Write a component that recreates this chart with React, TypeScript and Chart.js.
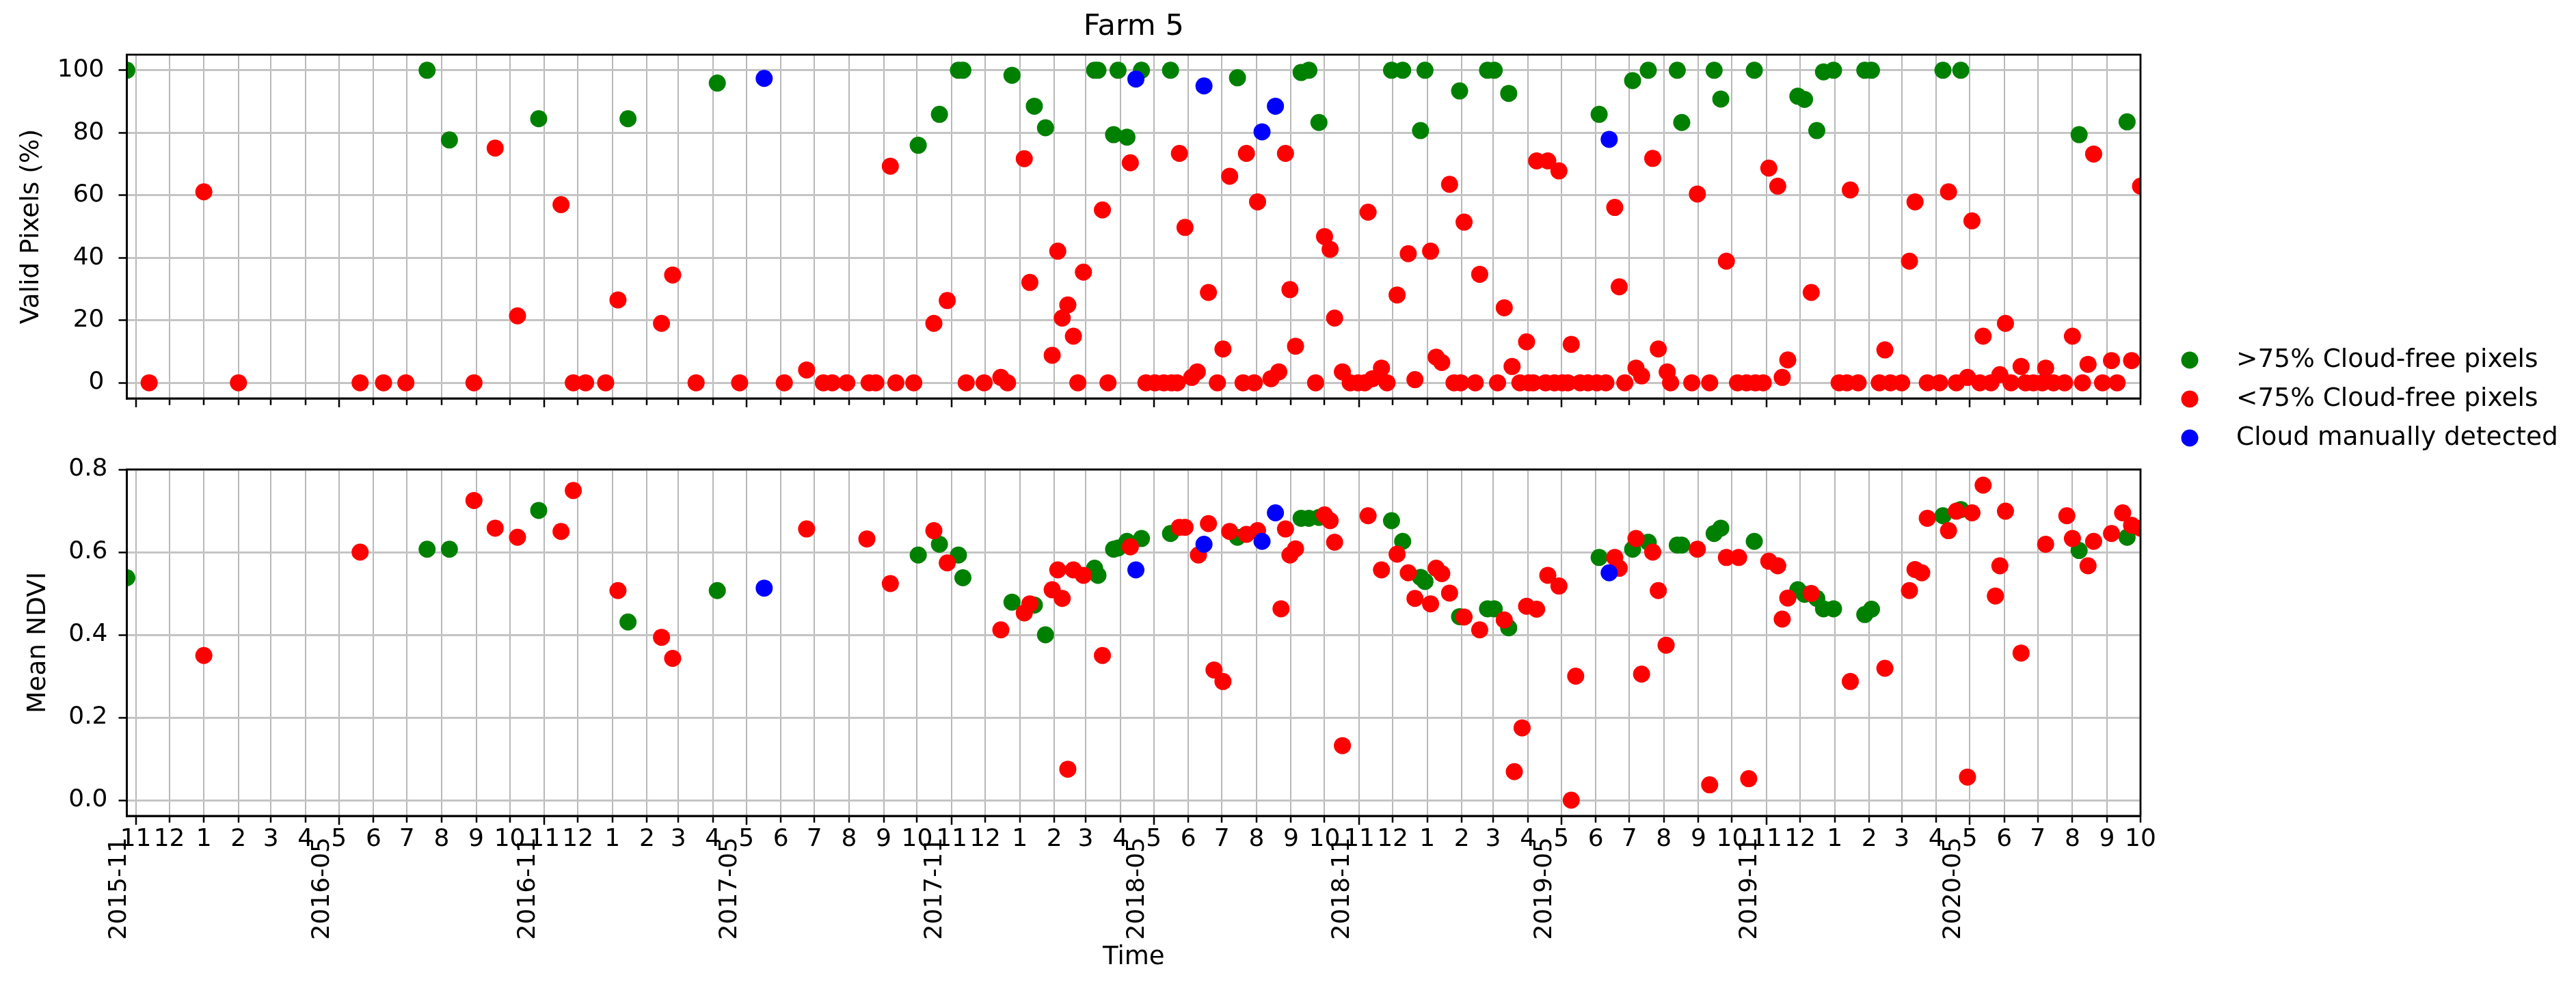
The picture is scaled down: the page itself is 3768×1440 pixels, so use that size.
import React, { useEffect, useRef } from 'react';
import { Chart, registerables } from 'chart.js';

Chart.register(...registerables);

// ---------------- axis definitions ----------------
const X_START = '2015-10-24';
const X_END = '2020-10-01';
const FIRST_MONTH_TICK = '2015-11-01';
const LAST_MONTH_TICK = '2020-10-01';
const MAJOR_TICK_LABELS = ['2015-11', '2016-05', '2016-11', '2017-05', '2017-11', '2018-05', '2018-11', '2019-05', '2019-11', '2020-05'];
const VALID_TICKS = [0, 20, 40, 60, 80, 100];
const VALID_MIN = -5;
const VALID_MAX = 105;
const NDVI_TICKS = [0.0, 0.2, 0.4, 0.6, 0.8];
const NDVI_MIN = -0.038;
const NDVI_MAX = 0.8;

const SERIES_LABELS = ['>75% Cloud-free pixels', '<75% Cloud-free pixels', 'Cloud manually detected'];
const SERIES_COLORS = ['#008000', '#ff0000', '#0000ff'];

// ---------------- data: valid pixels (%) ----------------
const VALID_GREEN: [string, number][] = [
  ['2015-10-24', 100], ['2016-07-19', 100], ['2016-08-08', 77.7], ['2016-10-27', 84.5], ['2017-01-15', 84.5],
  ['2017-04-05', 95.9], ['2017-10-02', 76], ['2017-10-21', 85.9], ['2017-11-07', 100], ['2017-11-11', 100],
  ['2017-12-25', 98.4], ['2018-01-14', 88.5], ['2018-01-24', 81.6], ['2018-03-09', 100], ['2018-03-12', 100],
  ['2018-03-26', 79.4], ['2018-03-30', 100], ['2018-04-07', 78.6], ['2018-04-20', 100], ['2018-05-16', 100],
  ['2018-07-15', 97.6], ['2018-09-10', 99.3], ['2018-09-17', 100], ['2018-09-26', 83.3], ['2018-11-30', 100],
  ['2018-12-10', 100], ['2018-12-26', 80.7], ['2018-12-30', 100], ['2019-01-30', 93.4], ['2019-02-24', 100],
  ['2019-03-02', 100], ['2019-03-15', 92.6], ['2019-06-04', 85.9], ['2019-07-04', 96.7], ['2019-07-18', 100],
  ['2019-08-13', 100], ['2019-08-17', 83.3], ['2019-09-15', 100], ['2019-09-21', 90.8], ['2019-10-21', 100],
  ['2019-11-29', 91.7], ['2019-12-05', 90.7], ['2019-12-16', 80.7], ['2019-12-22', 99.5], ['2019-12-31', 100],
  ['2020-01-28', 100], ['2020-02-03', 100], ['2020-04-07', 100], ['2020-04-23', 100], ['2020-08-07', 79.4],
  ['2020-09-19', 83.5],
];

const VALID_RED: [string, number][] = [
  ['2015-11-13', 0], ['2016-01-01', 61.1], ['2016-02-01', 0], ['2016-05-20', 0], ['2016-06-10', 0],
  ['2016-06-30', 0], ['2016-08-30', 0], ['2016-09-18', 75.1], ['2016-10-08', 21.4], ['2016-11-16', 57],
  ['2016-11-27', 0], ['2016-12-08', 0], ['2016-12-26', 0], ['2017-01-06', 26.5], ['2017-02-14', 19],
  ['2017-02-24', 34.5], ['2017-03-17', 0], ['2017-04-25', 0], ['2017-06-04', 0], ['2017-06-24', 4.1],
  ['2017-07-09', 0], ['2017-07-17', 0], ['2017-07-30', 0], ['2017-08-19', 0], ['2017-08-25', 0],
  ['2017-09-07', 69.3], ['2017-09-12', 0], ['2017-09-28', 0], ['2017-10-16', 19], ['2017-10-28', 26.3],
  ['2017-11-14', 0], ['2017-11-30', 0], ['2017-12-15', 1.7], ['2017-12-21', 0], ['2018-01-05', 71.7],
  ['2018-01-10', 32.1], ['2018-01-30', 8.8], ['2018-02-04', 42.1], ['2018-02-08', 20.7], ['2018-02-13', 24.9],
  ['2018-02-18', 14.9], ['2018-02-22', 0], ['2018-02-27', 35.4], ['2018-03-16', 55.3], ['2018-03-21', 0],
  ['2018-04-10', 70.4], ['2018-04-24', 0], ['2018-05-02', 0], ['2018-05-10', 0], ['2018-05-17', 0],
  ['2018-05-22', 0], ['2018-05-24', 73.4], ['2018-05-29', 49.7], ['2018-06-04', 1.7], ['2018-06-09', 3.5],
  ['2018-06-19', 28.9], ['2018-06-27', 0], ['2018-07-02', 10.8], ['2018-07-08', 66.1], ['2018-07-20', 0],
  ['2018-07-23', 73.4], ['2018-07-30', 0], ['2018-08-02', 57.9], ['2018-08-14', 1.3], ['2018-08-21', 3.5],
  ['2018-08-27', 73.4], ['2018-08-31', 29.8], ['2018-09-05', 11.7], ['2018-09-23', 0], ['2018-10-01', 46.8],
  ['2018-10-06', 42.7], ['2018-10-10', 20.7], ['2018-10-17', 3.5], ['2018-10-24', 0], ['2018-10-31', 0],
  ['2018-11-06', 0], ['2018-11-09', 54.6], ['2018-11-13', 1.3], ['2018-11-21', 4.7], ['2018-11-26', 0],
  ['2018-12-05', 28.1], ['2018-12-15', 41.3], ['2018-12-21', 1], ['2019-01-04', 42.1], ['2019-01-09', 8.2],
  ['2019-01-14', 6.5], ['2019-01-21', 63.5], ['2019-01-25', 0], ['2019-01-31', 0], ['2019-02-03', 51.4],
  ['2019-02-13', 0], ['2019-02-17', 34.7], ['2019-03-05', 0], ['2019-03-11', 24], ['2019-03-18', 5.2],
  ['2019-03-25', 0], ['2019-03-31', 13.1], ['2019-04-02', 0], ['2019-04-06', 0], ['2019-04-09', 71],
  ['2019-04-17', 0], ['2019-04-19', 71], ['2019-04-25', 0], ['2019-04-29', 67.8], ['2019-05-02', 0],
  ['2019-05-07', 0], ['2019-05-10', 12.3], ['2019-05-18', 0], ['2019-05-25', 0], ['2019-06-02', 0],
  ['2019-06-10', 0], ['2019-06-18', 56.1], ['2019-06-22', 30.7], ['2019-06-27', 0], ['2019-07-07', 4.7],
  ['2019-07-12', 2.2], ['2019-07-22', 71.8], ['2019-07-27', 10.8], ['2019-08-04', 3.5], ['2019-08-07', 0],
  ['2019-08-26', 0], ['2019-08-31', 60.4], ['2019-09-11', 0], ['2019-09-26', 38.9], ['2019-10-06', 0],
  ['2019-10-14', 0], ['2019-10-22', 0], ['2019-10-29', 0], ['2019-11-03', 68.7], ['2019-11-11', 62.9],
  ['2019-11-15', 1.7], ['2019-11-20', 7.3], ['2019-12-11', 28.9], ['2020-01-05', 0], ['2020-01-12', 0],
  ['2020-01-15', 61.7], ['2020-01-22', 0], ['2020-02-10', 0], ['2020-02-15', 10.5], ['2020-02-20', 0],
  ['2020-03-01', 0], ['2020-03-08', 38.9], ['2020-03-13', 57.9], ['2020-03-24', 0], ['2020-04-04', 0],
  ['2020-04-12', 61.1], ['2020-04-19', 0], ['2020-04-29', 1.7], ['2020-05-03', 51.8], ['2020-05-10', 0],
  ['2020-05-13', 14.9], ['2020-05-20', 0], ['2020-05-28', 2.6], ['2020-06-02', 19], ['2020-06-07', 0],
  ['2020-06-16', 5.2], ['2020-06-20', 0], ['2020-06-27', 0], ['2020-07-05', 0], ['2020-07-08', 4.7],
  ['2020-07-15', 0], ['2020-07-25', 0], ['2020-08-01', 14.9], ['2020-08-10', 0], ['2020-08-15', 5.9],
  ['2020-08-20', 73.2], ['2020-08-28', 0], ['2020-09-05', 7.1], ['2020-09-10', 0], ['2020-09-23', 7.1],
  ['2020-10-01', 62.9],
];

const VALID_BLUE: [string, number][] = [
  ['2017-05-17', 97.4], ['2018-04-15', 97.2], ['2018-06-15', 95], ['2018-08-06', 80.3], ['2018-08-18', 88.5],
  ['2019-06-13', 77.9],
];

// ---------------- data: mean NDVI ----------------
const NDVI_GREEN: [string, number][] = [
  ['2015-10-24', 0.538], ['2016-07-19', 0.607], ['2016-08-08', 0.607], ['2016-10-27', 0.701], ['2017-01-15', 0.431],
  ['2017-04-05', 0.507], ['2017-10-02', 0.593], ['2017-10-21', 0.619], ['2017-11-07', 0.593], ['2017-11-11', 0.538],
  ['2017-12-25', 0.479], ['2018-01-14', 0.472], ['2018-01-24', 0.4], ['2018-03-09', 0.561], ['2018-03-12', 0.544],
  ['2018-03-26', 0.607], ['2018-03-30', 0.61], ['2018-04-07', 0.626], ['2018-04-20', 0.633], ['2018-05-16', 0.645],
  ['2018-07-15', 0.636], ['2018-09-10', 0.682], ['2018-09-17', 0.682], ['2018-09-26', 0.684], ['2018-11-30', 0.676],
  ['2018-12-10', 0.626], ['2018-12-26', 0.539], ['2018-12-30', 0.529], ['2019-01-30', 0.444], ['2019-02-24', 0.463],
  ['2019-03-02', 0.463], ['2019-03-15', 0.417], ['2019-06-04', 0.587], ['2019-07-04', 0.607], ['2019-07-18', 0.624],
  ['2019-08-13', 0.617], ['2019-08-17', 0.617], ['2019-09-15', 0.645], ['2019-09-21', 0.658], ['2019-10-21', 0.626],
  ['2019-11-29', 0.509], ['2019-12-05', 0.498], ['2019-12-16', 0.488], ['2019-12-22', 0.463], ['2019-12-31', 0.463],
  ['2020-01-28', 0.449], ['2020-02-03', 0.462], ['2020-04-07', 0.688], ['2020-04-23', 0.703], ['2020-08-07', 0.604],
  ['2020-09-19', 0.636],
];

const NDVI_RED: [string, number][] = [
  ['2016-01-01', 0.35], ['2016-05-20', 0.6], ['2016-08-30', 0.725], ['2016-09-18', 0.658], ['2016-10-08', 0.636],
  ['2016-11-16', 0.65], ['2016-11-27', 0.749], ['2017-01-06', 0.507], ['2017-02-14', 0.394], ['2017-02-24', 0.343],
  ['2017-06-24', 0.656], ['2017-08-17', 0.632], ['2017-09-07', 0.524], ['2017-10-16', 0.652], ['2017-10-28', 0.574],
  ['2017-12-15', 0.412], ['2018-01-05', 0.453], ['2018-01-10', 0.475], ['2018-01-30', 0.509], ['2018-02-04', 0.557],
  ['2018-02-08', 0.488], ['2018-02-13', 0.075], ['2018-02-18', 0.557], ['2018-02-27', 0.544], ['2018-03-16', 0.35],
  ['2018-04-10', 0.613], ['2018-05-24', 0.66], ['2018-05-29', 0.66], ['2018-06-10', 0.593], ['2018-06-19', 0.669],
  ['2018-06-24', 0.315], ['2018-07-02', 0.287], ['2018-07-08', 0.65], ['2018-07-23', 0.643], ['2018-08-02', 0.652],
  ['2018-08-23', 0.463], ['2018-08-27', 0.656], ['2018-08-31', 0.593], ['2018-09-05', 0.608], ['2018-10-01', 0.69],
  ['2018-10-06', 0.676], ['2018-10-10', 0.624], ['2018-10-17', 0.132], ['2018-11-09', 0.688], ['2018-11-21', 0.557],
  ['2018-12-05', 0.595], ['2018-12-15', 0.55], ['2018-12-21', 0.488], ['2019-01-04', 0.475], ['2019-01-09', 0.561],
  ['2019-01-14', 0.548], ['2019-01-21', 0.501], ['2019-02-03', 0.443], ['2019-02-17', 0.412], ['2019-03-11', 0.436],
  ['2019-03-20', 0.069], ['2019-03-27', 0.175], ['2019-03-31', 0.469], ['2019-04-09', 0.462], ['2019-04-19', 0.544],
  ['2019-04-29', 0.518], ['2019-05-10', 0.0], ['2019-05-14', 0.3], ['2019-06-18', 0.587], ['2019-06-22', 0.561],
  ['2019-07-07', 0.633], ['2019-07-12', 0.305], ['2019-07-22', 0.6], ['2019-07-27', 0.507], ['2019-08-03', 0.375],
  ['2019-08-31', 0.607], ['2019-09-11', 0.037], ['2019-09-26', 0.587], ['2019-10-07', 0.587], ['2019-10-16', 0.052],
  ['2019-11-03', 0.578], ['2019-11-11', 0.567], ['2019-11-15', 0.438], ['2019-11-20', 0.489], ['2019-12-11', 0.5],
  ['2020-01-15', 0.287], ['2020-02-15', 0.319], ['2020-03-08', 0.507], ['2020-03-13', 0.558], ['2020-03-19', 0.55],
  ['2020-03-24', 0.682], ['2020-04-12', 0.652], ['2020-04-19', 0.699], ['2020-04-29', 0.056], ['2020-05-03', 0.695],
  ['2020-05-13', 0.762], ['2020-05-24', 0.494], ['2020-05-28', 0.567], ['2020-06-02', 0.699], ['2020-06-16', 0.356],
  ['2020-07-08', 0.619], ['2020-07-27', 0.688], ['2020-08-01', 0.633], ['2020-08-15', 0.567], ['2020-08-20', 0.626],
  ['2020-09-05', 0.645], ['2020-09-15', 0.695], ['2020-09-23', 0.665], ['2020-10-01', 0.658],
];

const NDVI_BLUE: [string, number][] = [
  ['2017-05-17', 0.513], ['2018-04-15', 0.557], ['2018-06-15', 0.619], ['2018-08-06', 0.626], ['2018-08-18', 0.695],
  ['2019-06-13', 0.55],
];

// ---------------- helpers ----------------
const FONT_FAMILY = "'DejaVu Sans', 'Liberation Sans', sans-serif";
Chart.defaults.font.family = FONT_FAMILY;
Chart.defaults.color = '#000';

const DAY_MS = 86400000;
const toDay = (s: string): number => {
  const [y, m, d] = s.split('-').map(Number);
  return Date.UTC(y, m - 1, d || 1) / DAY_MS;
};
const toPoints = (rows: [string, number][]) => rows.map(([d, v]) => ({ x: toDay(d), y: v }));

const buildMonthTicks = (): number[] => {
  const out: number[] = [];
  const end = toDay(LAST_MONTH_TICK);
  const start = new Date(toDay(FIRST_MONTH_TICK) * DAY_MS);
  let y = start.getUTCFullYear();
  let m = start.getUTCMonth();
  for (;;) {
    const v = Date.UTC(y, m, 1) / DAY_MS;
    if (v > end) break;
    out.push(v);
    m += 1;
    if (m > 11) { m = 0; y += 1; }
  }
  return out;
};
const MONTH_TICKS = buildMonthTicks();
const MAJOR_TICKS = MAJOR_TICK_LABELS.map((s) => toDay(s + '-01'));
const majorIndex = (v: number) => MAJOR_TICKS.findIndex((t) => Math.abs(t - v) < 0.5);
const monthNumber = (v: number) => String(new Date(v * DAY_MS).getUTCMonth() + 1);

// ---------------- layout ----------------
const CANVAS_W = 3768;
const TOP_H = 680;
const BOTTOM_Y = 600;
const BOTTOM_H = 840;
const Y_AXIS_W = 185.5;
const RIGHT_PAD = CANVAS_W - 3131;
const MONTH_LABEL_BAND = 70;

const framePlugin = {
  id: 'axesFrame',
  afterDraw(chart: any) {
    const { ctx, chartArea: a } = chart;
    ctx.save();
    ctx.strokeStyle = '#000';
    ctx.lineWidth = 2.8;
    ctx.strokeRect(a.left, a.top, a.right - a.left, a.bottom - a.top);
    ctx.restore();
  },
};

// the month axis takes no layout room (so the rotated year labels can overlap
// its row, as in the original); after layout give it a band so its labels are not clipped
const monthBandPlugin = {
  id: 'monthBand',
  afterLayout(chart: any) {
    const s = chart.scales.x;
    if (s) {
      s.bottom = s.top + MONTH_LABEL_BAND;
      s.height = MONTH_LABEL_BAND;
    }
  },
};

const sideLegendPlugin = {
  id: 'sideLegend',
  afterDraw(chart: any, _args: any, opts: any) {
    if (!opts || !opts.display) return;
    const { ctx, chartArea: a } = chart;
    ctx.save();
    ctx.font = `${opts.fontSize}px ${FONT_FAMILY}`;
    ctx.textBaseline = 'middle';
    ctx.textAlign = 'left';
    chart.data.datasets.forEach((d: any, i: number) => {
      const y = a.bottom + opts.firstRow + i * opts.rowGap;
      ctx.fillStyle = d.backgroundColor;
      ctx.beginPath();
      ctx.arc(a.right + opts.markerX, y, opts.radius, 0, Math.PI * 2);
      ctx.fill();
      ctx.fillStyle = '#000';
      ctx.fillText(d.label, a.right + opts.textX, y);
    });
    ctx.restore();
  },
};

const monthAxis = (showLabels: boolean, height: number) => ({
  type: 'linear',
  position: 'bottom',
  min: toDay(X_START),
  max: toDay(X_END),
  weight: 0,
  afterBuildTicks: (s: any) => { s.ticks = MONTH_TICKS.map((value) => ({ value })); },
  afterFit: (s: any) => { s.height = height; },
  grid: {
    display: true,
    color: '#b8b8b8',
    lineWidth: 2,
    drawTicks: true,
    tickLength: 13,
    tickWidth: 2.5,
    tickColor: '#000',
    tickBorderDash: (c: any) => (c && c.tick && majorIndex(c.tick.value) >= 0 ? [] : [8, 200]),
  },
  border: { display: true, color: '#000', width: 2.8 },
  ticks: {
    display: showLabels,
    autoSkip: false,
    minRotation: 0,
    maxRotation: 0,
    padding: 0,
    color: '#000',
    font: { size: 36 },
    callback: (v: any) => monthNumber(Number(v)),
  },
});

const majorLabelAxis = {
  type: 'linear',
  position: 'bottom',
  min: toDay(X_START),
  max: toDay(X_END),
  weight: 1,
  afterBuildTicks: (s: any) => { s.ticks = MAJOR_TICKS.map((value) => ({ value })); },
  afterFit: (s: any) => { s.height = 246; },
  grid: { display: false, drawTicks: false },
  border: { display: false },
  ticks: {
    autoSkip: false,
    minRotation: 90,
    maxRotation: 90,
    padding: 31,
    labelOffset: -24,
    color: '#000',
    font: { size: 36 },
    callback: (v: any) => {
      const i = majorIndex(Number(v));
      return i >= 0 ? MAJOR_TICK_LABELS[i] : '';
    },
  },
  title: { display: true, text: 'Time', color: '#000', font: { size: 37 }, padding: { top: 0, bottom: 16 } },
};

const yAxis = (min: number, max: number, ticks: number[], fmt: (v: number) => string, label: string, labelPad: number, tickPad: number) => ({
  type: 'linear',
  position: 'left',
  min,
  max,
  afterBuildTicks: (s: any) => { s.ticks = ticks.map((value) => ({ value })); },
  afterFit: (s: any) => { s.width = Y_AXIS_W; },
  grid: { color: '#c4c4c4', lineWidth: 3, drawTicks: true, tickLength: 12, tickWidth: 2.5, tickColor: '#000' },
  border: { display: true, color: '#000', width: 2.8 },
  ticks: { padding: tickPad, color: '#000', font: { size: 36 }, callback: (v: any) => fmt(Number(v)) },
  title: { display: true, text: label, color: '#000', font: { size: 37.5 }, padding: { top: labelPad, bottom: 0 } },
});

const dataset = (label: string, rows: [string, number][], color: string, order: number) => ({
  label,
  data: toPoints(rows),
  backgroundColor: color,
  borderColor: color,
  pointRadius: 12.5,
  pointHoverRadius: 12.5,
  pointBorderWidth: 0,
  showLine: false,
  clip: 0,
  order,
});

const commonOptions = {
  responsive: false,
  animation: false,
  devicePixelRatio: 1,
  events: [],
};

export default function App() {
  const topRef = useRef<HTMLCanvasElement>(null);
  const bottomRef = useRef<HTMLCanvasElement>(null);

  useEffect(() => {
    if (!topRef.current || !bottomRef.current) return;
    const top = new Chart(topRef.current, {
      type: 'scatter',
      data: {
        datasets: [
          dataset(SERIES_LABELS[0], VALID_GREEN, SERIES_COLORS[0], 2),
          dataset(SERIES_LABELS[1], VALID_RED, SERIES_COLORS[1], 1),
          dataset(SERIES_LABELS[2], VALID_BLUE, SERIES_COLORS[2], 0),
        ],
      },
      options: {
        ...commonOptions,
        layout: { padding: { left: 0, right: RIGHT_PAD, top: 0, bottom: 0 } },
        scales: {
          x: monthAxis(false, TOP_H - 583),
          y: yAxis(VALID_MIN, VALID_MAX, VALID_TICKS, (v) => String(v), 'Valid Pixels (%)', 24, 21),
        },
        plugins: {
          legend: { display: false },
          tooltip: { enabled: false },
          title: {
            display: true,
            text: 'Farm 5',
            fullSize: false,
            color: '#000',
            font: { size: 43, weight: 'normal' },
            padding: { top: 14, bottom: 14.4 },
          },
          sideLegend: { display: true, markerX: 72, textX: 140, firstRow: -56, rowGap: 57, radius: 12.5, fontSize: 37.5 },
        },
      } as any,
      plugins: [framePlugin, sideLegendPlugin],
    } as any);

    const bottom = new Chart(bottomRef.current, {
      type: 'scatter',
      data: {
        datasets: [
          dataset(SERIES_LABELS[0], NDVI_GREEN, SERIES_COLORS[0], 2),
          dataset(SERIES_LABELS[1], NDVI_RED, SERIES_COLORS[1], 1),
          dataset(SERIES_LABELS[2], NDVI_BLUE, SERIES_COLORS[2], 0),
        ],
      },
      options: {
        ...commonOptions,
        layout: { padding: { left: 0, right: RIGHT_PAD, top: 87, bottom: 0 } },
        scales: {
          x: monthAxis(true, 0),
          x2: majorLabelAxis,
          y: yAxis(NDVI_MIN, NDVI_MAX, NDVI_TICKS, (v) => v.toFixed(1), 'Mean NDVI', 34, 16),
        },
        plugins: {
          legend: { display: false },
          tooltip: { enabled: false },
          title: { display: false },
        },
      } as any,
      plugins: [monthBandPlugin, framePlugin],
    } as any);

    return () => {
      top.destroy();
      bottom.destroy();
    };
  }, []);

  return (
    <div style={{ position: 'absolute', left: 0, top: 0, width: CANVAS_W, height: 1440, background: '#fff', overflow: 'hidden' }}>
      <canvas
        ref={topRef}
        width={CANVAS_W}
        height={TOP_H}
        style={{ position: 'absolute', left: 0, top: 0, width: CANVAS_W, height: TOP_H }}
      />
      <canvas
        ref={bottomRef}
        width={CANVAS_W}
        height={BOTTOM_H}
        style={{ position: 'absolute', left: 0, top: BOTTOM_Y, width: CANVAS_W, height: BOTTOM_H }}
      />
    </div>
  );
}
